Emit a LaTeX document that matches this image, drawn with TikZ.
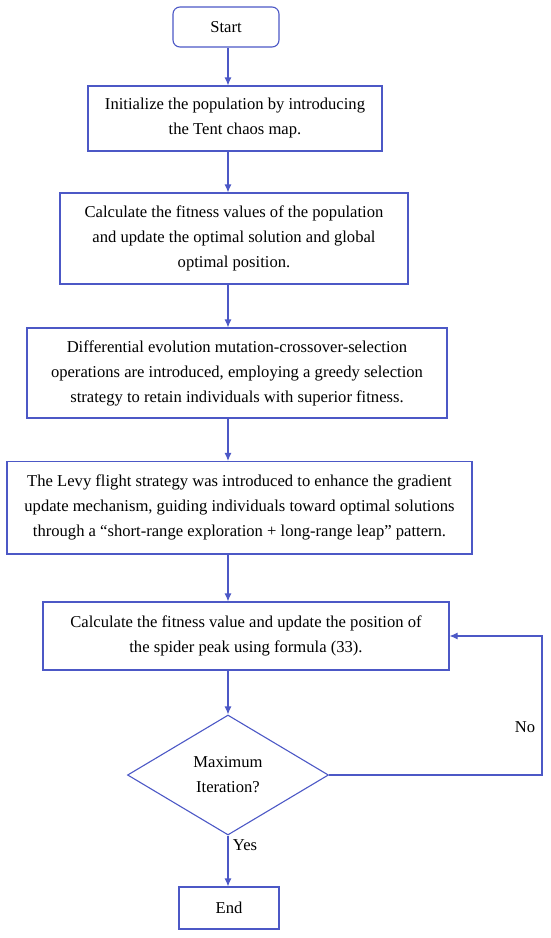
\documentclass[tikz,border=0pt]{standalone}
\usepackage{fontspec}
\setmainfont{Liberation Serif}
\usetikzlibrary{arrows.meta,shapes.geometric}
\definecolor{flowblue}{RGB}{76,88,198}

\begin{document}
\begin{tikzpicture}[x=1pt,y=-1pt,>={Latex[length=8pt,width=7pt]},
	box/.style={draw=flowblue,line width=1.1pt,align=center,inner sep=0pt,
		font=\fontsize{16.6}{25}\selectfont},
	flow/.style={draw=flowblue,line width=1.1pt,->},
	lbl/.style={inner sep=0pt,font=\fontsize{16.6}{25}\selectfont}]
	%\draw [help lines] (0,0) grid (550,938);
	\useasboundingbox (0,0) rectangle (550,938);
	\coordinate (axis) at (228,0);
	\coordinate (loop) at (542,0);
	% Start
	\node[box,rounded corners=7pt,minimum width=106pt,minimum height=40pt] (start) at (226,27) {Start};
	% Initialisation
	\node[box,minimum width=294pt,minimum height=65pt] (init) at (235,118.5)
		{Initialize the population by introducing\\the Tent chaos map.};
	% Fitness
	\node[box,minimum width=348pt,minimum height=91pt] (fit) at (234,238.5)
		{Calculate the fitness values of the population\\and update the optimal solution and global\\optimal position.};
	% Differential evolution
	\node[box,minimum width=420pt,minimum height=90pt] (de) at (237,373)
		{Differential evolution mutation-crossover-selection\\operations are introduced, employing a greedy selection\\strategy to retain individuals with superior fitness.};
	% Levy flight
	\node[box,minimum width=465pt,minimum height=92.5pt] (levy) at (239.5,507.75)
		{The Levy flight strategy was introduced to enhance the gradient\\update mechanism, guiding individuals toward optimal solutions\\through a “short-range exploration + long-range leap” pattern.};
	% Position update
	\node[box,minimum width=406pt,minimum height=68pt] (upd) at (246,636)
		{Calculate the fitness value and update the position of\\the spider peak using formula (33).};
	% Decision
	\node[box,diamond,aspect=1.675,minimum width=201pt,minimum height=120pt] (maxit) at (228,775)
		{Maximum\\Iteration?};
	% End
	\node[box,minimum width=100pt,minimum height=42pt] (end) at (229,908) {End};
	
	% Arrows
	\draw[flow] (axis |- start.south) -- (axis |- init.north);
	\draw[flow] (axis |- init.south) -- (axis |- fit.north);
	\draw[flow] (axis |- fit.south) -- (axis |- de.north);
	\draw[flow] (axis |- de.south) -- (axis |- levy.north);
	\draw[flow] (axis |- levy.south) -- (axis |- upd.north);
	\draw[flow] (axis |- upd.south) -- (maxit.north);
	\draw[flow] (maxit.south) -- (maxit.south |- end.north);
	\draw[flow] (maxit.east) -- (maxit.east -| loop) |- (upd.east);
	\node[lbl] (no) at (525,727) {No};
	\node[lbl] (yes) at (245,845) {Yes};
\end{tikzpicture}
\end{document}
